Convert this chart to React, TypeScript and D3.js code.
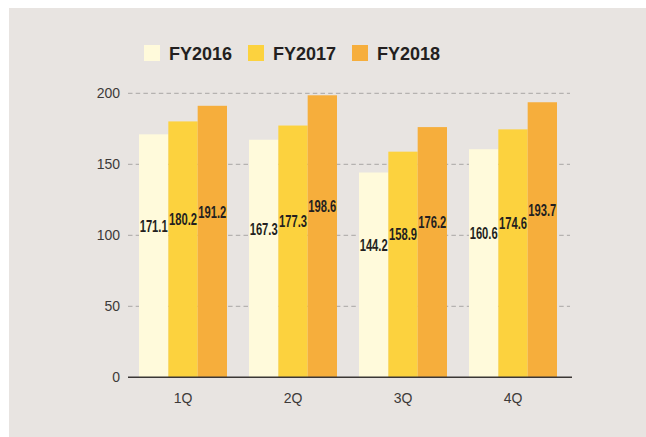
import React from "react";
import * as d3 from "d3";

const quarters = ["1Q", "2Q", "3Q", "4Q"];
const seriesNames = ["FY2016", "FY2017", "FY2018"];
const fy2016 = [171.1, 167.3, 144.2, 160.6];
const fy2017 = [180.2, 177.3, 158.9, 174.6];
const fy2018 = [191.2, 198.6, 176.2, 193.7];
const yTicks = [0, 50, 100, 150, 200];
const colors = ["#FFFADB", "#FCD23E", "#F6AE3C"];

const W = 646;
const H = 437;

export default function App() {
  const series = [fy2016, fy2017, fy2018];
  const x0 = d3.scaleBand<string>().domain(quarters).range([128, 568]).paddingInner(0.2).paddingOuter(0.1);
  const x1 = d3.scaleBand<string>().domain(seriesNames).range([0, x0.bandwidth()]).padding(0);
  const y = d3.scaleLinear().domain([0, 200]).range([377.3, 93.3]);

  const labelFont = "'Liberation Sans Narrow', 'Arial Narrow', 'Liberation Sans', Arial, sans-serif";
  const axisFont = "'Helvetica Neue', 'Liberation Sans', Arial, sans-serif";

  return (
    <svg width={W} height={H} style={{ position: "absolute", left: 0, top: 0, display: "block" }}>
      <rect x={0} y={0} width={W} height={H} fill="#ffffff" />
      <rect x={9} y={8} width={W - 9} height={H - 8} fill="#E8E4E1" />

      {/* legend */}
      {seriesNames.map((name, i) => (
        <g key={name} transform={`translate(${144 + i * 104},45)`}>
          <rect x={0} y={0} width={16} height={16} fill={colors[i]} />
          <text x={25} y={15} fontFamily={axisFont} fontWeight="bold" fontSize={18} fill="#231f20">
            {name}
          </text>
        </g>
      ))}

      {/* gridlines */}
      {yTicks.filter((t) => t > 0).map((t) => (
        <line key={t} x1={128} x2={570} y1={y(t)} y2={y(t)} stroke="#a8a6a4" strokeWidth={1} strokeDasharray="4.5,3.2" />
      ))}

      {/* y tick labels */}
      {yTicks.map((t) => (
        <text key={t} x={120} y={y(t)} dy="0.35em" textAnchor="end" fontFamily={axisFont} fontSize={14} fill="#3d3a39">
          {t}
        </text>
      ))}

      {/* bars */}
      {quarters.map((q, qi) => (
        <g key={q} transform={`translate(${x0(q)},0)`}>
          {series.map((s, si) => (
            <rect
              key={si}
              x={x1(seriesNames[si])}
              y={y(s[qi])}
              width={x1.bandwidth()}
              height={y(0) - y(s[qi])}
              fill={colors[si]}
            />
          ))}
        </g>
      ))}

      {/* value labels */}
      {quarters.map((q, qi) => (
        <g key={q} transform={`translate(${x0(q)},0)`}>
          {series.map((s, si) => (
            <text
              key={si}
              x={(x1(seriesNames[si]) as number) + x1.bandwidth() / 2}
              y={y(s[qi] / 2) - 24}
              textAnchor="middle"
              fontFamily={labelFont}
              fontWeight="bold"
              fontSize={16}
              fill="#231f20"
              textLength={28}
              lengthAdjust="spacingAndGlyphs"
            >
              {s[qi].toFixed(1)}
            </text>
          ))}
        </g>
      ))}

      {/* x axis */}
      <line x1={128} x2={572} y1={y(0)} y2={y(0)} stroke="#3a3635" strokeWidth={1.5} />
      {quarters.map((q) => (
        <text
          key={q}
          x={(x0(q) as number) + x0.bandwidth() / 2}
          y={403}
          textAnchor="middle"
          fontFamily={axisFont}
          fontSize={14}
          fill="#3d3a39"
        >
          {q}
        </text>
      ))}
    </svg>
  );
}
